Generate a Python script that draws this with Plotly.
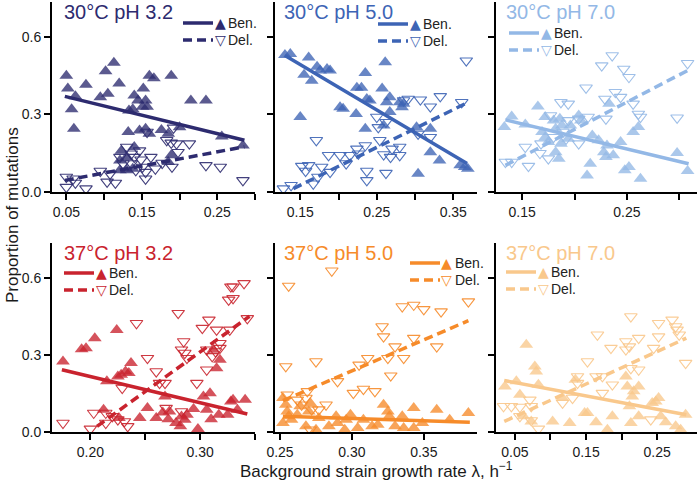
import plotly.graph_objects as go

# ---- data ----
# 30C pH 3.2
p1_ben_x = [0.05, 0.052, 0.062, 0.057, 0.06, 0.076, 0.095, 0.102, 0.105, 0.113, 0.12, 0.14, 0.145, 0.152,
            0.155, 0.157, 0.151, 0.138, 0.133, 0.16, 0.166, 0.189, 0.215, 0.235, 0.132, 0.147, 0.155, 0.16,
            0.176, 0.185, 0.2, 0.189, 0.185, 0.14, 0.123, 0.121, 0.13, 0.138, 0.121, 0.13, 0.256, 0.284]
p1_ben_y = [0.45, 0.40, 0.37, 0.32, 0.245, 0.415, 0.367, 0.467, 0.38, 0.50, 0.42, 0.373, 0.354, 0.40,
            0.354, 0.33, 0.33, 0.32, 0.315, 0.45, 0.44, 0.45, 0.354, 0.354, 0.232, 0.238, 0.245, 0.225,
            0.24, 0.225, 0.25, 0.142, 0.116, 0.174, 0.16, 0.122, 0.135, 0.09, 0.084, 0.084, 0.215, 0.18]
p1_del_x = [0.05, 0.05, 0.059, 0.062, 0.076, 0.095, 0.104, 0.115, 0.108, 0.121, 0.125, 0.136, 0.14, 0.149,
            0.142, 0.151, 0.155, 0.162, 0.155, 0.157, 0.168, 0.177, 0.183, 0.189, 0.192, 0.196, 0.198,
            0.213, 0.19, 0.235, 0.254, 0.13, 0.284, 0.147, 0.136]
p1_del_y = [0.058, 0.019, 0.051, 0.035, 0.013, 0.081, 0.039, 0.035, 0.07, 0.135, 0.11, 0.148, 0.135, 0.125,
            0.084, 0.097, 0.077, 0.135, 0.051, 0.232, 0.09, 0.112, 0.2, 0.19, 0.248, 0.187, 0.154,
            0.187, 0.097, 0.103, 0.097, 0.174, 0.045, 0.16, 0.11]
p1_ben_fit_x, p1_ben_fit_y = [0.048, 0.286], [0.37, 0.20]
p1_del_fit_x, p1_del_fit_y = [0.048, 0.286], [0.045, 0.175]

# 30C pH 5.0
p2_ben_x = [0.13, 0.137, 0.161, 0.172, 0.176, 0.155, 0.165, 0.185, 0.189, 0.15, 0.202, 0.206, 0.223, 0.224,
            0.23, 0.235, 0.237, 0.241, 0.257, 0.261, 0.267, 0.263, 0.235, 0.259, 0.28, 0.283, 0.267, 0.302,
            0.32, 0.32, 0.332, 0.304, 0.359, 0.365, 0.369, 0.285]
p2_ben_y = [0.53, 0.534, 0.52, 0.485, 0.47, 0.454, 0.43, 0.476, 0.47, 0.29, 0.328, 0.322, 0.302, 0.403,
            0.403, 0.46, 0.36, 0.354, 0.40, 0.502, 0.367, 0.347, 0.245, 0.257, 0.347, 0.328, 0.309, 0.25,
            0.245, 0.154, 0.122, 0.071, 0.103, 0.097, 0.09, 0.341]
p2_del_x = [0.128, 0.138, 0.152, 0.161, 0.157, 0.167, 0.173, 0.178, 0.189, 0.187, 0.202, 0.21, 0.215, 0.224,
            0.226, 0.235, 0.237, 0.237, 0.25, 0.252, 0.259, 0.262, 0.268, 0.27, 0.28, 0.28, 0.262, 0.285,
            0.291, 0.307, 0.32, 0.333, 0.361, 0.32, 0.304, 0.367, 0.171, 0.254]
p2_del_y = [0.013, 0.026, 0.10, 0.103, 0.081, 0.032, 0.058, 0.097, 0.077, 0.142, 0.142, 0.11, 0.142, 0.167,
            0.148, 0.18, 0.045, 0.081, 0.29, 0.25, 0.145, 0.073, 0.135, 0.167, 0.174, 0.142, 0.27, 0.354,
            0.36, 0.357, 0.33, 0.37, 0.347, 0.212, 0.225, 0.508, 0.20, 0.20]
p2_ben_fit_x, p2_ben_fit_y = [0.13, 0.368], [0.528, 0.11]
p2_del_fit_x, p2_del_fit_y = [0.141, 0.368], [0.013, 0.345]

# 30C pH 7.0
p3_ben_x = [0.133, 0.14, 0.153, 0.165, 0.169, 0.172, 0.18, 0.182, 0.186, 0.188, 0.175, 0.182, 0.185, 0.187,
            0.194, 0.196, 0.204, 0.206, 0.217, 0.215, 0.212, 0.223, 0.228, 0.23, 0.231, 0.233, 0.237, 0.244,
            0.248, 0.252, 0.256, 0.261, 0.263, 0.298, 0.308, 0.172]
p3_ben_y = [0.251, 0.292, 0.261, 0.331, 0.232, 0.29, 0.277, 0.245, 0.283, 0.257, 0.193, 0.154, 0.129, 0.187,
            0.206, 0.257, 0.296, 0.277, 0.219, 0.109, 0.064, 0.20, 0.154, 0.135, 0.18, 0.341, 0.142, 0.193,
            0.084, 0.097, 0.232, 0.251, 0.051, 0.151, 0.081, 0.212]
p3_del_x = [0.134, 0.14, 0.153, 0.168, 0.156, 0.175, 0.167, 0.187, 0.194, 0.18, 0.189, 0.192, 0.194, 0.204,
            0.204, 0.211, 0.213, 0.226, 0.236, 0.229, 0.23, 0.239, 0.244, 0.247, 0.252, 0.256, 0.261, 0.263,
            0.298, 0.308, 0.177]
p3_del_y = [0.116, 0.116, 0.174, 0.187, 0.10, 0.129, 0.15, 0.347, 0.341, 0.212, 0.232, 0.206, 0.277, 0.283,
            0.187, 0.403, 0.29, 0.489, 0.528, 0.36, 0.283, 0.386, 0.367, 0.476, 0.444, 0.341, 0.302, 0.29,
            0.287, 0.498, 0.296]
p3_ben_fit_x, p3_ben_fit_y = [0.134, 0.309], [0.279, 0.109]
p3_del_fit_x, p3_del_fit_y = [0.134, 0.308], [0.103, 0.47]

# 37C pH 3.2
p4_ben_x = [0.175, 0.192, 0.196, 0.204, 0.224, 0.225, 0.228, 0.232, 0.237, 0.235, 0.212, 0.215, 0.226, 0.245,
            0.252, 0.26, 0.266, 0.268, 0.272, 0.271, 0.278, 0.282, 0.286, 0.288, 0.294, 0.298, 0.303, 0.309,
            0.306, 0.31, 0.317, 0.315, 0.318, 0.312, 0.325, 0.328, 0.283, 0.33, 0.341, 0.334]
p4_ben_y = [0.274, 0.322, 0.326, 0.365, 0.397, 0.216, 0.223, 0.235, 0.268, 0.229, 0.087, 0.197, 0.054, 0.054,
            0.093, 0.054, 0.076, 0.138, 0.08, 0.05, 0.035, 0.022, 0.048, 0.067, 0.089, 0.012, 0.138, 0.151,
            0.087, 0.05, 0.067, 0.248, 0.281, 0.32, 0.067, 0.119, 0.06, 0.125, 0.125, 0.087]
p4_del_x = [0.175, 0.20, 0.203, 0.214, 0.214, 0.22, 0.225, 0.231, 0.234, 0.229, 0.242, 0.252, 0.26, 0.263,
            0.268, 0.269, 0.28, 0.283, 0.285, 0.286, 0.288, 0.283, 0.297, 0.302, 0.308, 0.306, 0.306, 0.311,
            0.315, 0.318, 0.318, 0.314, 0.326, 0.328, 0.327, 0.34, 0.33, 0.343, 0.33]
p4_del_y = [0.035, 0.012, 0.074, 0.074, 0.035, 0.061, 0.048, 0.041, 0.022, 0.171, 0.423, 0.287, 0.235, 0.19,
            0.19, 0.093, 0.462, 0.32, 0.352, 0.307, 0.287, 0.08, 0.19, 0.404, 0.436, 0.32, 0.242, 0.294,
            0.397, 0.345, 0.326, 0.313, 0.514, 0.565, 0.397, 0.578, 0.565, 0.442, 0.52]
p4_ben_fit_x, p4_ben_fit_y = [0.174, 0.343], [0.242, 0.07]
p4_del_fit_x, p4_del_fit_y = [0.206, 0.345], [0.022, 0.45]

# 37C pH 5.0
p5_ben_x = [0.252, 0.254, 0.255, 0.256, 0.252, 0.258, 0.262, 0.264, 0.27, 0.271, 0.268, 0.275, 0.277, 0.284,
            0.289, 0.29, 0.296, 0.299, 0.304, 0.308, 0.314, 0.318, 0.322, 0.325, 0.326, 0.33, 0.335, 0.336,
            0.343, 0.343, 0.349, 0.359, 0.368, 0.381, 0.295]
p5_ben_y = [0.132, 0.106, 0.08, 0.061, 0.035, 0.048, 0.067, 0.10, 0.08, 0.113, 0.022, 0.009, 0.054, 0.022,
            0.061, 0.035, 0.048, 0.067, 0.016, 0.048, 0.022, 0.028, 0.106, 0.08, 0.061, 0.022, 0.061, 0.016,
            0.093, 0.016, 0.035, 0.087, 0.048, 0.074, 0.009]
p5_del_x = [0.254, 0.256, 0.286, 0.255, 0.262, 0.265, 0.269, 0.268, 0.272, 0.275, 0.282, 0.29, 0.301, 0.305,
            0.308, 0.311, 0.316, 0.321, 0.322, 0.325, 0.327, 0.33, 0.335, 0.343, 0.343, 0.336, 0.35, 0.359,
            0.362, 0.381, 0.277, 0.271]
p5_del_y = [0.255, 0.568, 0.627, 0.145, 0.125, 0.106, 0.158, 0.132, 0.087, 0.274, 0.106, 0.197, 0.151, 0.261,
            0.167, 0.287, 0.158, 0.41, 0.371, 0.287, 0.219, 0.332, 0.488, 0.494, 0.365, 0.287, 0.477, 0.332,
            0.468, 0.507, 0.087, 0.009]
p5_ben_fit_x, p5_ben_fit_y = [0.252, 0.382], [0.061, 0.038]
p5_del_fit_x, p5_del_fit_y = [0.252, 0.381], [0.122, 0.433]

# 37C pH 7.0
p6_ben_x = [0.036, 0.052, 0.057, 0.066, 0.078, 0.08, 0.083, 0.062, 0.073, 0.103, 0.117, 0.127, 0.135, 0.148,
            0.152, 0.164, 0.18, 0.187, 0.206, 0.208, 0.211, 0.213, 0.215, 0.217, 0.224, 0.224, 0.243, 0.248,
            0.252, 0.255, 0.262, 0.276, 0.283, 0.29]
p6_ben_y = [0.177, 0.197, 0.145, 0.339, 0.255, 0.235, 0.184, 0.061, 0.041, 0.041, 0.132, 0.035, 0.203, 0.074,
            0.074, 0.038, 0.009, 0.061, 0.216, 0.177, 0.10, 0.035, 0.138, 0.158, 0.177, 0.061, 0.113, 0.119,
            0.132, 0.061, 0.038, 0.022, 0.009, 0.067]
p6_del_x = [0.034, 0.045, 0.057, 0.071, 0.073, 0.057, 0.073, 0.083, 0.117, 0.131, 0.138, 0.138, 0.152, 0.164,
            0.166, 0.173, 0.173, 0.185, 0.187, 0.206, 0.206, 0.211, 0.213, 0.224, 0.213, 0.224, 0.241, 0.245,
            0.252, 0.252, 0.271, 0.276, 0.278, 0.281, 0.29]
p6_del_y = [0.10, 0.10, 0.097, 0.125, 0.10, 0.061, 0.045, 0.012, 0.113, 0.132, 0.216, 0.19, 0.274, 0.216,
            0.378, 0.151, 0.216, 0.326, 0.184, 0.352, 0.32, 0.332, 0.449, 0.365, 0.248, 0.242, 0.048, 0.326,
            0.423, 0.371, 0.436, 0.41, 0.397, 0.378, 0.268]
p6_ben_fit_x, p6_ben_fit_y = [0.035, 0.291], [0.2, 0.067]
p6_del_fit_x, p6_del_fit_y = [0.035, 0.291], [0.041, 0.365]

titles = ["30°C pH 3.2", "30°C pH 5.0", "30°C pH 7.0", "37°C pH 3.2", "37°C pH 5.0", "37°C pH 7.0"]
line_colors = ["#2d2b6f", "#3d64b5", "#93b8e6", "#c9232e", "#f68b2a", "#f9c88c"]

x_ranges = [[0.031, 0.300], [0.117, 0.381], [0.125, 0.317], [0.165, 0.350], [0.2465, 0.387], [0.0234, 0.306]]
x_labeled = [[0.05, 0.15, 0.25], [0.15, 0.25, 0.35], [0.15, 0.25], [0.20, 0.30], [0.25, 0.30, 0.35],
             [0.05, 0.15, 0.25]]
x_labels = [["0.05", "0.15", "0.25"], ["0.15", "0.25", "0.35"], ["0.15", "0.25"], ["0.20", "0.30"],
            ["0.25", "0.30", "0.35"], ["0.05", "0.15", "0.25"]]
x_minor = [[0.10, 0.20, 0.30], [0.20, 0.30], [0.20, 0.30], [0.25, 0.35], [], [0.10, 0.20]]
y_ticks = [0.0, 0.3, 0.6]
y_ticktext = ["0.0", "0.3", "0.6"]

panels = [
    (p1_ben_x, p1_ben_y, p1_del_x, p1_del_y, p1_ben_fit_x, p1_ben_fit_y, p1_del_fit_x, p1_del_fit_y),
    (p2_ben_x, p2_ben_y, p2_del_x, p2_del_y, p2_ben_fit_x, p2_ben_fit_y, p2_del_fit_x, p2_del_fit_y),
    (p3_ben_x, p3_ben_y, p3_del_x, p3_del_y, p3_ben_fit_x, p3_ben_fit_y, p3_del_fit_x, p3_del_fit_y),
    (p4_ben_x, p4_ben_y, p4_del_x, p4_del_y, p4_ben_fit_x, p4_ben_fit_y, p4_del_fit_x, p4_del_fit_y),
    (p5_ben_x, p5_ben_y, p5_del_x, p5_del_y, p5_ben_fit_x, p5_ben_fit_y, p5_del_fit_x, p5_del_fit_y),
    (p6_ben_x, p6_ben_y, p6_del_x, p6_del_y, p6_ben_fit_x, p6_ben_fit_y, p6_del_fit_x, p6_del_fit_y),
]

# ---- layout in pixels ----
W, H = 698, 489
ML, MB = 52, 57
PW, PH = W - ML, H - MB
FONT = "Liberation Sans, Arial, sans-serif"


def fx(px):
    return (px - ML) / PW


def fy(py):
    return (PH - py) / PH


col_px = [(52, 255), (275, 477), (496, 697)]
row_px = [(2, 192), (243, 432)]

# legend / title positions per panel (pixels)
title_pos = [(62, 12), (282, 12), (504, 12), (62, 253), (282, 253), (504, 253)]
legend_pos = [(183, 23), (378, 24), (509, 33), (64, 273), (410, 263), (506, 272)]

fig = go.Figure()
layout = dict(width=W, height=H, margin=dict(l=ML, r=0, t=0, b=MB), plot_bgcolor="white",
              paper_bgcolor="white", showlegend=False, font=dict(family=FONT, size=14, color="#1a1a1a"))
shapes, annotations = [], []
tick_style = dict(ticks="outside", ticklen=6, tickwidth=2, tickcolor="black")

for i, (bx, by, dx, dy, bfx, bfy, dfx, dfy) in enumerate(panels):
    r, c = divmod(i, 3)
    n = "" if i == 0 else str(i + 1)
    col = line_colors[i]
    xa, ya = "x" + n, "y" + n
    fig.add_trace(go.Scatter(x=dx, y=dy, mode="markers", xaxis=xa, yaxis=ya,
                             marker=dict(symbol="triangle-down-open", size=11, color=col,
                                         opacity=0.9, line=dict(width=1.1, color=col))))
    fig.add_trace(go.Scatter(x=bx, y=by, mode="markers", xaxis=xa, yaxis=ya,
                             marker=dict(symbol="triangle-up", size=12, color=col, opacity=0.78,
                                         line=dict(width=0))))
    fig.add_trace(go.Scatter(x=bfx, y=bfy, mode="lines", xaxis=xa, yaxis=ya,
                             line=dict(color=col, width=3.5)))
    fig.add_trace(go.Scatter(x=dfx, y=dfy, mode="lines", xaxis=xa, yaxis=ya,
                             line=dict(color=col, width=3.5, dash="9px,5px")))

    x0, x1 = col_px[c]
    y0, y1 = row_px[r]
    xaxis = dict(domain=[fx(x0), fx(x1)], anchor=ya, range=x_ranges[i],
                 tickvals=x_labeled[i], ticktext=x_labels[i], showline=True,
                 linecolor="black", linewidth=2, showgrid=False, zeroline=False,
                 tickfont=dict(size=14, color="#1a1a1a"), **tick_style)
    if x_minor[i]:
        xaxis["minor"] = dict(tickvals=x_minor[i], showgrid=False, **tick_style)
    layout["xaxis" + n] = xaxis
    layout["yaxis" + n] = dict(domain=[fy(y1), fy(y0)], anchor=xa, range=[0, 0.735],
                               tickvals=y_ticks, ticktext=y_ticktext, showticklabels=(c == 0),
                               showline=True, linecolor="black", linewidth=2, showgrid=False,
                               zeroline=False, tickfont=dict(size=14, color="#1a1a1a"), **tick_style)

    tx, ty = title_pos[i]
    annotations.append(dict(text=titles[i], x=fx(tx), y=fy(ty), xref="paper", yref="paper",
                            xanchor="left", yanchor="middle", showarrow=False,
                            font=dict(size=20, color=col, family=FONT)))
    lx, ly = legend_pos[i]
    for k, (sym, lab, dash) in enumerate([("▲", "Ben.", "solid"), ("▽", "Del.", "9px,5px")]):
        yy = ly + 17 * k
        shapes.append(dict(type="line", xref="paper", yref="paper", x0=fx(lx), x1=fx(lx + 30),
                           y0=fy(yy), y1=fy(yy), line=dict(color=col, width=3.5, dash=dash)))
        annotations.append(dict(text=sym, x=fx(lx + 37), y=fy(yy), xref="paper", yref="paper",
                                xanchor="center", yanchor="middle", showarrow=False, borderpad=0,
                                font=dict(size=14, color=col, family="DejaVu Sans")))
        annotations.append(dict(text=lab, x=fx(lx + 44), y=fy(yy), xref="paper", yref="paper",
                                xanchor="left", yanchor="middle", showarrow=False, borderpad=0,
                                font=dict(size=14, color="#222222", family=FONT)))

annotations.append(dict(text="Background strain growth rate λ, h<sup>−1</sup>", x=fx(376), y=fy(470),
                        xref="paper", yref="paper", xanchor="center", yanchor="middle", showarrow=False,
                        font=dict(size=17, color="#1a1a1a", family=FONT)))
annotations.append(dict(text="Proportion of mutations", x=fx(12), y=fy(215), xref="paper", yref="paper",
                        xanchor="center", yanchor="middle", showarrow=False, textangle=-90,
                        font=dict(size=17, color="#1a1a1a", family=FONT)))

layout["shapes"] = shapes
layout["annotations"] = annotations
fig.update_layout(**layout)
# page body has a default 8px margin; drop it so the figure sits at the window corner
fig.write_html("out.html", config={"displayModeBar": False},
               post_script="document.body.style.margin='0';")
